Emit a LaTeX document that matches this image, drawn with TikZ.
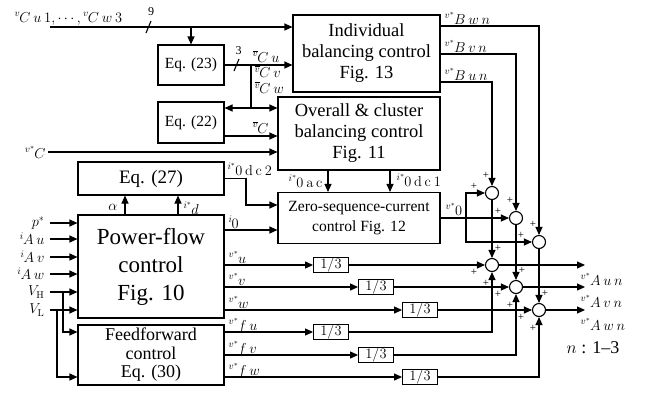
\documentclass[tikz,border=0pt]{standalone}
\usepackage[no-math]{fontspec}
\setmainfont{Liberation Serif}
\usetikzlibrary{arrows.meta}
\DeclareMathSizes{14.4}{14.4}{10}{7}
% letter spacing inside signal names
\newcommand{\lsp}{\mkern3.5mu}
% signal name: small raised symbol followed by its index
\newcommand{\rz}[2]{{}^{#1}\mkern-1mu #2}
\begin{document}
\begin{tikzpicture}[x=1pt,y=-1pt,line width=1.1pt,
  >={Triangle[length=8pt,width=7pt]},
  blk/.style={draw,inner sep=0pt,align=center},
  bigtxt/.style={font=\fontsize{18.5}{21}\selectfont},
  eqtxt/.style={font=\fontsize{15.5}{18}\selectfont},
  third/.style={draw,line width=0.9pt,minimum width=35pt,minimum height=15pt,inner sep=0pt,font=\fontsize{14.4}{15}\selectfont},
  sumj/.style={draw,circle,minimum size=13pt,inner sep=0pt},
  lbl/.style={inner sep=0pt,font=\fontsize{14.4}{17}\selectfont},
  pl/.style={inner sep=0pt,font=\fontsize{11}{11}\selectfont}]
\useasboundingbox (0,0) rectangle (650,392);

% ---- blocks ----
\node[blk,bigtxt,minimum width=147pt,minimum height=77pt] (ind) at (366.5,53.5) {Individual\\balancing control\\Fig. 13};
\node[blk,eqtxt,minimum width=66pt,minimum height=40pt] (eq23) at (191,65) {Eq. (23)};
\node[blk,eqtxt,minimum width=66pt,minimum height=41pt] (eq22) at (191,122.5) {Eq. (22)};
\node[blk,bigtxt,minimum width=162pt,minimum height=73pt] (ovr) at (359,133.5) {Overall \& cluster\\balancing control\\Fig. 11};
\node[blk,font=\fontsize{19}{21}\selectfont,minimum width=146pt,minimum height=33pt] (eq27) at (151,178.5) {Eq. (27)};
\node[blk,font=\fontsize{15.6}{20}\selectfont,minimum width=162pt,minimum height=51pt] (zero) at (359,218) {Zero-sequence-current\\control Fig. 12};
\node[blk,font=\fontsize{23}{28}\selectfont,minimum width=146pt,minimum height=103pt] (pf) at (151,266.5) {Power-flow\\control\\Fig. 10};
\node[blk,font=\fontsize{18}{18.5}\selectfont,minimum width=146pt,minimum height=60pt] (ff) at (151,355) {Feedforward\\control\\Eq. (30)};

% ---- gain blocks ----
\node[third] (t1) at (331,265) {$1/3$};
\node[third] (t2) at (376,287) {$1/3$};
\node[third] (t3) at (420,310) {$1/3$};
\node[third] (t4) at (331,332) {$1/3$};
\node[third] (t5) at (376,355) {$1/3$};
\node[third] (t6) at (420,377) {$1/3$};

% ---- summing junctions ----
\node[sumj] (s1) at (492,193) {};
\node[sumj] (s2) at (516,218) {};
\node[sumj] (s3) at (539,242) {};
\node[sumj] (s4) at (492,265) {};
\node[sumj] (s5) at (516,287) {};
\node[sumj] (s6) at (539,310) {};

% ---- capacitor voltage bus ----
\coordinate (vin) at (50,27);
\coordinate (tap23) at (191,27);
\coordinate (sl9) at (148.5,27);
\draw[->] (vin) -- (vin -| ind.west);
\draw[->] (tap23) -- (eq23.north);
\draw ([shift={(-2.5,6)}]sl9) -- ([shift={(2.5,-6)}]sl9);
\node[lbl,anchor=base west] (lvin) at (14,22) {$\rz{v}{C\lsp u\lsp 1},\cdots,\rz{v}{C\lsp w\lsp 3}$};
\node[inner sep=0pt,font=\fontsize{12}{12}\selectfont] (l9) at (151,12) {9};

% ---- Eq. (23) / Eq. (22) ----
\coordinate (sl3) at (236.5,65);
\coordinate (br) at (251,65);
\coordinate (brd) at (251,108);
\coordinate (c22) at (224,136);
\draw[->] (eq23.east) -- (eq23.east -| ind.west);
\draw ([shift={(-2.5,6)}]sl3) -- ([shift={(2.5,-6)}]sl3);
\node[inner sep=0pt,font=\fontsize{12}{12}\selectfont] (l3) at (238.5,51) {3};
\draw (br) -- (brd);
\draw[<->] (brd -| eq22.east) -- (brd -| ovr.west);
\draw[->] (c22) -- (c22 -| ovr.west);
\node[lbl,anchor=base west] (lcu) at (252,62) {$\rz{\overline{v}}{C\lsp u}$};
\node[lbl,anchor=base west] (lcv) at (254,77.5) {$\rz{\overline{v}}{C\lsp v}$};
\node[lbl,anchor=base west] (lcw) at (254,93.5) {$\rz{\overline{v}}{C\lsp w}$};
\node[lbl,anchor=base west] (lc) at (252,133) {$\rz{\overline{v}}{C}$};

% ---- reference voltage ----
\coordinate (vc) at (48,152);
\draw[->] (vc) -- (vc -| ovr.west);
\node[lbl,anchor=base east] (lvc) at (46,158) {$\rz{v^*}{C}$};

% ---- Eq. (27) ----
\coordinate (al) at (125,215);
\coordinate (idd) at (178,215);
\coordinate (k1) at (246,205);
\draw[->] (al) -- (al |- eq27.south);
\draw[->] (idd) -- (idd |- eq27.south);
\node[lbl,anchor=base east] (lal) at (118,210) {$\alpha$};
\node[lbl,anchor=base west] (lid) at (183,214) {$\rz{i^*}{d}$};
\draw[->] (eq27.east) -| (k1) -- (k1 -| zero.west);
\node[lbl,anchor=base west] (ldc2) at (227,175) {$\rz{i^*}{\mathrm{0\lsp d\lsp c\lsp 2}}$};

% ---- overall control to zero-sequence control ----
\coordinate (d1) at (328,170);
\coordinate (d2) at (390,170);
\draw[->] (d1) -- (d1 |- zero.north);
\draw[->] (d2) -- (d2 |- zero.north);
\node[lbl,anchor=base east] (lac) at (323,187) {$\rz{i^*}{\mathrm{0\lsp a\lsp c}}$};
\node[lbl,anchor=base west] (ldc1) at (396,186) {$\rz{i^*}{\mathrm{0\lsp d\lsp c\lsp 1}}$};

% ---- zero-sequence current ----
\coordinate (i0) at (224,230);
\draw[->] (i0) -- (i0 -| zero.west);
\node[lbl,anchor=base west] (li0) at (228,228) {$\rz{i}{0}$};

% ---- power-flow inputs ----
\foreach \yy/\nm/\tx in {223/a/{p^*},239/b/{\rz{i}{A\lsp u}},257/c/{\rz{i}{A\lsp v}},274/d/{\rz{i}{A\lsp w}},292/e/{V_{\mathrm{H}}},310/f/{V_{\mathrm{L}}}}{
  \coordinate (in\nm) at (50,\yy);
  \draw[->] (in\nm) -- (in\nm -| pf.west);
  \node[lbl,anchor=east] (lin\nm) at ([xshift=-5pt]in\nm) {$\tx$};
}
\coordinate (fh) at (63,332);
\coordinate (fl) at (57,377);
\draw[->] (ine -| fh) |- (fh -| ff.west);
\draw[->] (inf -| fl) |- (fl -| ff.west);

% ---- output references ----
\coordinate (pu) at (224,265);
\coordinate (pv) at (224,287);
\coordinate (pw) at (224,310);
\coordinate (fu) at (224,332);
\coordinate (fv) at (224,355);
\coordinate (fw) at (224,377);
\draw[->] (pu) -- (t1.west);
\draw[->] (pv) -- (t2.west);
\draw[->] (pw) -- (t3.west);
\draw[->] (fu) -- (t4.west);
\draw[->] (fv) -- (t5.west);
\draw[->] (fw) -- (t6.west);
\node[lbl,anchor=base west] (lpu) at ([shift={(4,-2)}]pu) {$\rz{v^*}{u}$};
\node[lbl,anchor=base west] (lpv) at ([shift={(4,-2)}]pv) {$\rz{v^*}{v}$};
\node[lbl,anchor=base west] (lpw) at ([shift={(4,-2)}]pw) {$\rz{v^*}{w}$};
\node[lbl,anchor=base west] (lfu) at ([shift={(4,-2)}]fu) {$\rz{v^*}{f\lsp u}$};
\node[lbl,anchor=base west] (lfv) at ([shift={(4,-2)}]fv) {$\rz{v^*}{f\lsp v}$};
\node[lbl,anchor=base west] (lfw) at ([shift={(4,-2)}]fw) {$\rz{v^*}{f\lsp w}$};

\draw[->] (t1.east) -- (s4.west);
\draw[->] (t2.east) -- (s5.west);
\draw[->] (t3.east) -- (s6.west);
\draw[->] (t4.east) -| (s4.south);
\draw[->] (t5.east) -| (s5.south);
\draw[->] (t6.east) -| (s6.south);

% ---- balancing references ----
\coordinate (bw) at (440,26);
\coordinate (bv) at (440,54);
\coordinate (bu) at (440,82);
\draw[->] (bw) -| (s3.north);
\draw[->] (bv) -| (s2.north);
\draw[->] (bu) -| (s1.north);
\node[lbl,anchor=base west] (lbw) at (444,24) {$\rz{v^*}{B\lsp w\lsp n}$};
\node[lbl,anchor=base west] (lbv) at (444,52) {$\rz{v^*}{B\lsp v\lsp n}$};
\node[lbl,anchor=base west] (lbu) at (444,80) {$\rz{v^*}{B\lsp u\lsp n}$};

% ---- zero-sequence voltage ----
\coordinate (vb) at (466,218);
\draw[->] (zero.east) -- (s2.west);
\draw[->] (vb) |- (s1.west);
\draw[->] (vb) |- (s3.west);
\node[lbl,anchor=base west] (lv0) at (445,215) {$\rz{v^*}{0}$};

% ---- cascade of sums ----
\draw[->] (s1.south) -- (s4.north);
\draw[->] (s2.south) -- (s5.north);
\draw[->] (s3.south) -- (s6.north);

% ---- arm voltage references ----
\coordinate (ou) at (585,265);
\coordinate (ov) at (585,287);
\coordinate (ow) at (585,310);
\draw[->] (s4.east) -- (ou);
\draw[->] (s5.east) -- (ov);
\draw[->] (s6.east) -- (ow);
\node[lbl,anchor=base west] (lou) at (580,285) {$\rz{v^*}{A\lsp u\lsp n}$};
\node[lbl,anchor=base west] (lov) at (580,307) {$\rz{v^*}{A\lsp v\lsp n}$};
\node[lbl,anchor=base west] (low) at (580,330) {$\rz{v^*}{A\lsp w\lsp n}$};
\node[font=\fontsize{18}{18}\selectfont] (lrange) at (593,348) {$n$ : 1--3};

% ---- signs ----
\foreach \s in {s1,s2,s3}{
  \node[pl] at ([shift={(-6,-18)}]\s) {+};
  \node[pl] at ([shift={(-18,-7)}]\s) {+};
}
\foreach \s in {s4,s5,s6}{
  \node[pl] at ([shift={(6,-17)}]\s) {+};
  \node[pl] at ([shift={(-18,7)}]\s) {+};
  \node[pl] at ([shift={(-6,18)}]\s) {+};
}
\end{tikzpicture}
\end{document}
